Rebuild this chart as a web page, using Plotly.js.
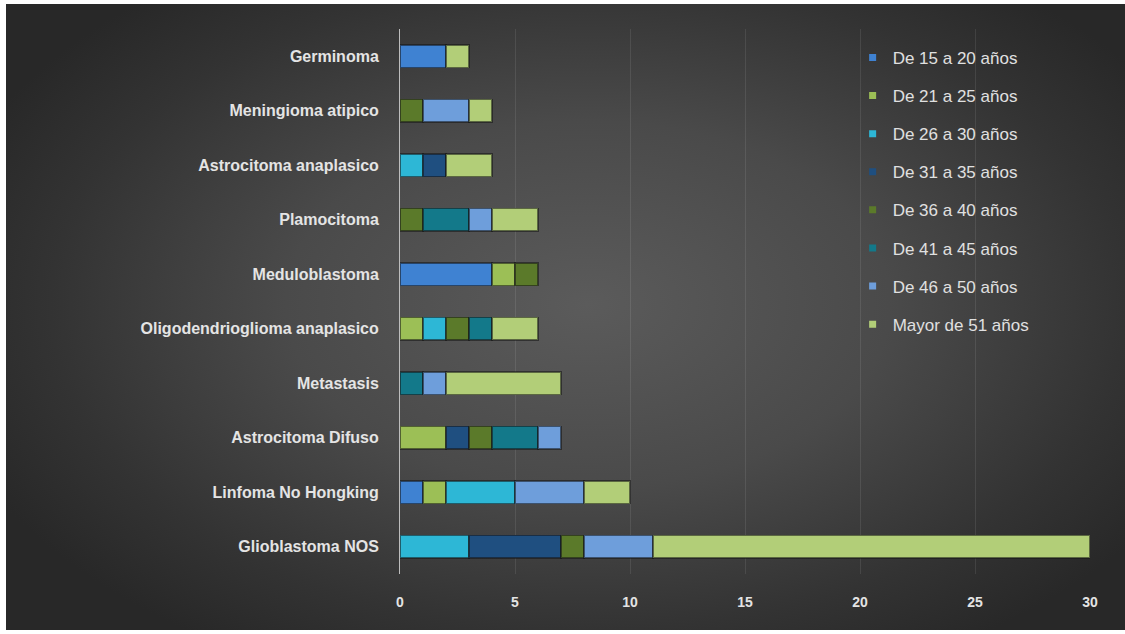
<!DOCTYPE html>
<html>
<head>
<meta charset="utf-8">
<script src="https://cdn.plot.ly/plotly-3.0.1.min.js"></script>
<style>
  html, body { margin: 0; padding: 0; background: #ffffff; }
  #wrap { position: relative; width: 1125px; height: 634px; overflow: hidden; }
  #bg {
    position: absolute; left: 6px; top: 4px; width: 1119px; height: 626px;
    background: radial-gradient(ellipse 60% 65% at 52% 48%, #5b5b5b 0%, #4a4a4a 45%, #333333 80%, #282828 100%);
  }
  #chart { position: absolute; left: 0; top: 0; width: 1125px; height: 634px; }
</style>
</head>
<body>
<div id="wrap">
  <div id="bg"></div>
  <div id="chart"></div>
</div>
<script>
// Tumour types, listed bottom to top
const categories = [
  "Glioblastoma NOS",
  "Linfoma No Hongking",
  "Astrocitoma Difuso",
  "Metastasis",
  "Oligodendrioglioma anaplasico",
  "Meduloblastoma",
  "Plamocitoma",
  "Astrocitoma anaplasico",
  "Meningioma atipico",
  "Germinoma"
];

// Cases per age group, same order as categories
const de15a20 = [0, 1, 0, 0, 0, 4, 0, 0, 0, 2];
const de21a25 = [0, 1, 2, 0, 1, 1, 0, 0, 0, 0];
const de26a30 = [3, 3, 0, 0, 1, 0, 0, 1, 0, 0];
const de31a35 = [4, 0, 1, 0, 0, 0, 0, 1, 0, 0];
const de36a40 = [1, 0, 1, 0, 1, 1, 1, 0, 1, 0];
const de41a45 = [0, 0, 2, 1, 1, 0, 2, 0, 0, 0];
const de46a50 = [3, 3, 1, 1, 0, 0, 1, 0, 2, 0];
const mayor51 = [19, 2, 0, 5, 2, 0, 2, 2, 1, 1];

const seriesNames = [
  "De 15 a 20 años", "De 21 a 25 años", "De 26 a 30 años", "De 31 a 35 años",
  "De 36 a 40 años", "De 41 a 45 años", "De 46 a 50 años", "Mayor de 51 años"
];
const seriesValues = [de15a20, de21a25, de26a30, de31a35, de36a40, de41a45, de46a50, mayor51];
const seriesColors = [
  "#3f82d2", "#9cbf56", "#2db7d6", "#1f4f80",
  "#5b7a2a", "#13798a", "#6e9edb", "#b2ce78"
];

const traces = [];
seriesNames.forEach((name, i) => {
  traces.push({
    type: "bar",
    orientation: "h",
    name: name,
    y: categories,
    x: seriesValues[i].map(v => (v === 0 ? null : v)),
    marker: { color: seriesColors[i], line: { color: "rgba(20,20,20,0.55)", width: 1.5 } },
    showlegend: false,
    hoverinfo: "x+name"
  });
});
// Small square keys for the legend
seriesNames.forEach((name, i) => {
  traces.push({
    type: "scatter",
    mode: "markers",
    name: name,
    x: [null], y: [null],
    marker: { symbol: "square", size: 7, color: seriesColors[i], line: { width: 0 } },
    legendgroup: "g" + i,
    showlegend: true,
    hoverinfo: "skip"
  });
});

const labelColor = "#e4e4e4";
const layout = {
  width: 1125,
  height: 634,
  paper_bgcolor: "rgba(0,0,0,0)",
  plot_bgcolor: "rgba(0,0,0,0)",
  margin: { l: 400, r: 35, t: 29, b: 60 },
  barmode: "stack",
  bargap: 0.58,
  font: { family: "Liberation Sans, Arial, sans-serif", color: labelColor },
  xaxis: {
    range: [0, 30],
    dtick: 5,
    tick0: 0,
    showgrid: true,
    gridcolor: "rgba(255,255,255,0.09)",
    gridwidth: 1,
    zeroline: false,
    showline: false,
    ticks: "",
    ticklabelstandoff: 18,
    tickfont: { family: "Liberation Sans, Arial, sans-serif", size: 14, color: labelColor, weight: "bold" },
    fixedrange: true
  },
  yaxis: {
    type: "category",
    categoryorder: "array",
    categoryarray: categories,
    range: [-0.5, 9.5],
    showgrid: false,
    zeroline: false,
    showline: true,
    linecolor: "#bdbdbd",
    linewidth: 1,
    ticks: "",
    ticklabelstandoff: 17,
    tickfont: { family: "Liberation Sans, Arial, sans-serif", size: 16, color: labelColor, weight: "bold" },
    fixedrange: true
  },
  showlegend: true,
  legend: {
    x: 0.656,
    xanchor: "left",
    y: 0.98,
    yanchor: "top",
    bgcolor: "rgba(0,0,0,0)",
    borderwidth: 0,
    traceorder: "grouped",
    tracegroupgap: 13,
    itemwidth: 30,
    font: { family: "Liberation Sans, Arial, sans-serif", size: 17, color: "#e0e0e0" }
  }
};

Plotly.newPlot("chart", traces, layout, { displayModeBar: false, staticPlot: true });
</script>
</body>
</html>
